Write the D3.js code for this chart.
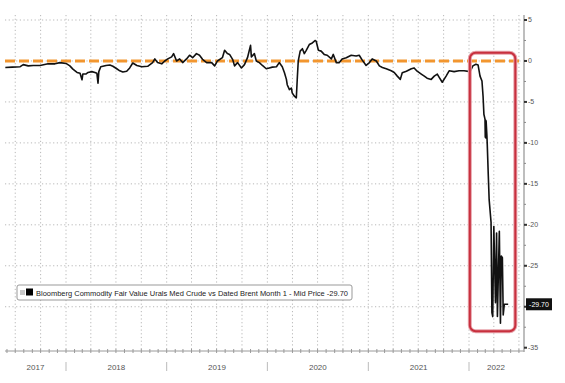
<!DOCTYPE html>
<html><head><meta charset="utf-8">
<script src="https://cdn.jsdelivr.net/npm/d3@7"></script>
<style>body{margin:0;background:#fff}svg{display:block}</style>
</head><body><svg id="c" width="565" height="383"></svg>
<script>
const dates = ["2017-05-26","2017-06-20","2017-07-19","2017-07-30","2017-08-17","2017-09-04","2017-09-29","2017-10-28","2017-11-22","2017-12-10",
"2018-01-01","2018-01-15","2018-01-26","2018-02-10","2018-02-21","2018-02-28","2018-03-03","2018-03-14","2018-03-22","2018-04-05","2018-04-16","2018-04-23","2018-04-27","2018-04-30","2018-05-07","2018-05-26","2018-06-09","2018-06-20","2018-07-04","2018-07-15","2018-07-26","2018-08-09","2018-08-20","2018-08-31","2018-09-15","2018-10-03","2018-10-24","2018-11-11","2018-11-19","2018-11-29","2018-12-14","2018-12-25",
"2019-01-05","2019-01-19","2019-01-26","2019-02-06","2019-02-17","2019-02-28","2019-03-14","2019-03-25","2019-04-05","2019-04-19","2019-04-30","2019-05-11","2019-05-26","2019-06-13","2019-06-24","2019-07-04","2019-07-22","2019-07-30","2019-08-09","2019-08-17","2019-08-28","2019-09-04","2019-09-15","2019-09-29","2019-10-10","2019-10-21","2019-11-01","2019-11-04","2019-11-15","2019-11-22","2019-12-03","2019-12-14","2019-12-28",
"2020-01-08","2020-01-19","2020-02-03","2020-02-13","2020-02-24","2020-03-03","2020-03-10","2020-03-13","2020-03-21","2020-03-28","2020-03-31","2020-04-08","2020-04-15","2020-04-19","2020-04-22","2020-04-29","2020-05-07","2020-05-14","2020-05-21","2020-06-01","2020-06-12","2020-06-23","2020-06-26","2020-07-04","2020-07-14","2020-07-25","2020-08-05","2020-08-20","2020-08-27","2020-09-07","2020-09-18","2020-09-28","2020-10-13","2020-10-31","2020-11-18","2020-11-29","2020-12-10","2020-12-24",
"2021-01-05","2021-01-15","2021-01-30","2021-02-10","2021-02-21","2021-03-07","2021-03-25","2021-04-05","2021-04-16","2021-04-27","2021-05-04","2021-05-19","2021-06-06","2021-06-16","2021-06-27","2021-07-12","2021-07-23","2021-08-02","2021-08-17","2021-08-28","2021-09-08","2021-09-15","2021-09-26","2021-10-10","2021-10-21","2021-11-08","2021-11-26","2021-12-14",
"2022-01-05","2022-01-15","2022-01-26","2022-02-03","2022-02-10","2022-02-17","2022-02-21","2022-02-24","2022-02-28","2022-03-01","2022-03-02","2022-03-03","2022-03-04","2022-03-07","2022-03-08","2022-03-12","2022-03-15","2022-03-22","2022-03-25","2022-03-28","2022-04-01","2022-04-07","2022-04-11","2022-04-14","2022-04-21","2022-04-25","2022-04-28","2022-05-02","2022-05-05","2022-05-09","2022-05-23"];
const values = [-0.8,-0.75,-0.7,-0.45,-0.6,-0.55,-0.55,-0.35,-0.35,-0.2,
-0.3,-0.6,-1.0,-1.4,-1.5,-2.3,-1.6,-1.6,-1.4,-1.3,-1.4,-1.5,-2.7,-1.3,-0.7,-0.55,-0.5,-0.65,-0.95,-1.2,-1.35,-1.25,-0.85,-0.25,-0.55,-0.7,-0.65,-0.2,0.25,-0.2,-0.35,0,
0.25,0.5,0.9,0,0.25,-0.2,0.25,0.7,0.4,0.9,0.7,0.2,-0.2,-0.2,-0.6,0,0.4,1.3,0.9,0.8,0.2,-0.6,-0.2,-0.85,-0.45,0.4,1.9,0.5,0.9,0,-0.2,-0.55,-0.95,
-0.85,-0.75,-0.7,-0.2,-0.7,-1.45,-2.25,-2.9,-3.5,-3.3,-3.9,-4.3,-4.5,-1.8,0,1.2,1.5,0.9,1.3,2.0,2.2,2.5,2.4,1.3,1.2,0.8,0.7,0.25,0.8,-0.2,-0.2,0.25,0.4,0.7,0.6,0.7,0.1,-0.55,
-0.2,0.25,0,-0.6,-0.8,-0.95,-1.2,-1.4,-1.85,-2.25,-1.45,-1.25,-0.95,-0.85,-1.25,-1.6,-1.85,-2.1,-2.25,-1.85,-1.6,-2.0,-2.6,-1.85,-1.2,-1.3,-1.2,-1.2,
-1.3,-0.6,-0.4,-0.5,-1.85,-2.45,-4.3,-6.5,-7.1,-9.3,-7.2,-9.4,-7.3,-9.2,-10,-14,-16.9,-19.7,-30.7,-31.2,-20.2,-29.5,-21,-31.2,-20.8,-32,-23.8,-24,-31,-29.7,-29.7];
const yTicks = [5,0,-5,-10,-15,-20,-25,-30,-35];
const yGrid = [5,0,-5,-10,-15,-20,-25,-30];
const yMinor = [2.5,-2.5,-7.5,-12.5,-17.5,-22.5,-27.5,-32.5];
const yearLabels = ["2017","2018","2019","2020","2021","2022"];
const legendLabel = "Bloomberg Commodity Fair Value Urals Med Crude vs Dated Brent Month 1 - Mid Price -29.70";
const lastValue = -29.70;
const referenceLevel = 0;
const highlightDates = ["2022-01-04","2022-06-18"];
const highlightValues = [1.0,-33.0];

const parse = d3.timeParse("%Y-%m-%d");
const data = dates.map((d,i)=>({date:parse(d), v:values[i]}));
const svg = d3.select("#c");
const L=5, R=523, T=15, B=351;
const x = d3.scaleTime().domain([new Date(2018,0,1), new Date(2022,0,1)]).range([66,469]);
const y = d3.scaleLinear().domain([-35,5]).range([347.7,20]);
const d0 = x.invert(L), d1 = x.invert(R);

// horizontal grid
svg.append("g").selectAll("line").data(yGrid).join("line")
  .attr("x1",L).attr("x2",R).attr("y1",d=>y(d)).attr("y2",d=>y(d))
  .attr("stroke","#b8b8b8").attr("stroke-width",1).attr("stroke-dasharray","1.2,2.5");
// vertical grid (quarters)
const quarters = d3.timeMonth.every(3).range(d0, d1);
svg.append("g").selectAll("line").data(quarters).join("line")
  .attr("x1",d=>x(d)).attr("x2",d=>x(d)).attr("y1",T).attr("y2",B)
  .attr("stroke","#b8b8b8").attr("stroke-width",1).attr("stroke-dasharray","1.2,2.5");

// bottom axis
svg.append("line").attr("x1",L).attr("x2",R+1).attr("y1",B).attr("y2",B).attr("stroke","#9a9a9a");
const months = d3.timeMonth.range(d0, d1);
svg.append("g").selectAll("line").data(months).join("line")
  .attr("x1",d=>x(d)).attr("x2",d=>x(d)).attr("y1",B-2).attr("y2",B+2).attr("stroke","#9a9a9a");
const years = d3.timeYear.range(d3.timeYear.floor(d0), d1);
svg.append("g").selectAll("line").data(years.filter(d=>x(d)>=L)).join("line")
  .attr("x1",d=>x(d)).attr("x2",d=>x(d)).attr("y1",362).attr("y2",371).attr("stroke","#bbb");
svg.append("g").selectAll("text").data(years).join("text")
  .attr("x",(d,i)=>{const a=Math.max(x(d),L), b=Math.min(x(d3.timeYear.offset(d,1)),R); return (a+b)/2;})
  .attr("y",370).attr("text-anchor","middle").attr("font-family","Liberation Sans, Arial, sans-serif")
  .attr("font-size",8).attr("fill","#555").text((d,i)=>yearLabels[i]);

// right axis
svg.append("line").attr("x1",R+1).attr("x2",R+1).attr("y1",T).attr("y2",B+1).attr("stroke","#a8a8a8").attr("stroke-width",1.5);
svg.append("g").selectAll("line").data(yMinor).join("line")
  .attr("x1",R+1).attr("x2",R+3).attr("y1",d=>y(d)).attr("y2",d=>y(d)).attr("stroke","#888");
svg.append("g").selectAll("rect").data(yTicks).join("rect")
  .attr("x",R+1).attr("y",d=>y(d)-1).attr("width",3).attr("height",2).attr("fill","#333");
// the -30 label is covered by the last-value tag in the reference
svg.append("g").selectAll("text").data(yTicks.filter(d=>Math.abs(d-lastValue)>2)).join("text")
  .attr("x",R+5).attr("y",d=>y(d)).attr("dy","0.35em").attr("font-family","Liberation Sans, Arial, sans-serif")
  .attr("font-size",7).attr("fill","#555").text(d=>d);

// reference dashed line
svg.append("line").attr("x1",L).attr("x2",R).attr("y1",y(referenceLevel)).attr("y2",y(referenceLevel))
  .attr("stroke","#f2962f").attr("stroke-width",3).attr("stroke-dasharray","10,4");

// series line
svg.append("path").datum(data)
  .attr("d", d3.line().x(d=>x(d.date)).y(d=>y(d.v)))
  .attr("fill","none").attr("stroke","#111").attr("stroke-width",1.6).attr("stroke-linejoin","round");

// highlight box
const hx0 = x(parse(highlightDates[0])), hx1 = x(parse(highlightDates[1]));
svg.append("rect").attr("x",hx0).attr("y",y(highlightValues[0])).attr("width",hx1-hx0)
  .attr("height",y(highlightValues[1])-y(highlightValues[0])).attr("rx",6)
  .attr("fill","none").attr("stroke","#e7a3ab").attr("stroke-width",4);
svg.append("rect").attr("x",hx0).attr("y",y(highlightValues[0])).attr("width",hx1-hx0)
  .attr("height",y(highlightValues[1])-y(highlightValues[0])).attr("rx",6)
  .attr("fill","none").attr("stroke","#c8303e").attr("stroke-width",2);

// last value label
svg.append("rect").attr("x",R+3).attr("y",y(lastValue)-6).attr("width",26).attr("height",12).attr("fill","#111");
svg.append("text").attr("x",R+16).attr("y",y(lastValue)).attr("dy","0.35em").attr("text-anchor","middle")
  .attr("font-family","Liberation Sans, Arial, sans-serif").attr("font-size",7).attr("fill","#fff").text(lastValue.toFixed(2));

// legend
const lg = svg.append("g");
lg.append("rect").attr("x",17).attr("y",285).attr("width",335).attr("height",15).attr("rx",2)
  .attr("fill","#fff").attr("stroke","#999");
lg.append("rect").attr("x",20).attr("y",290).attr("width",5).attr("height",5).attr("fill","#c8c8c8");
lg.append("rect").attr("x",26).attr("y",288.5).attr("width",7).attr("height",7).attr("fill","#000");
lg.append("text").attr("x",36).attr("y",295.5).attr("font-family","Liberation Sans, Arial, sans-serif")
  .attr("font-size",8).attr("fill","#222").attr("textLength",312).attr("lengthAdjust","spacingAndGlyphs").text(legendLabel);
</script></body></html>
